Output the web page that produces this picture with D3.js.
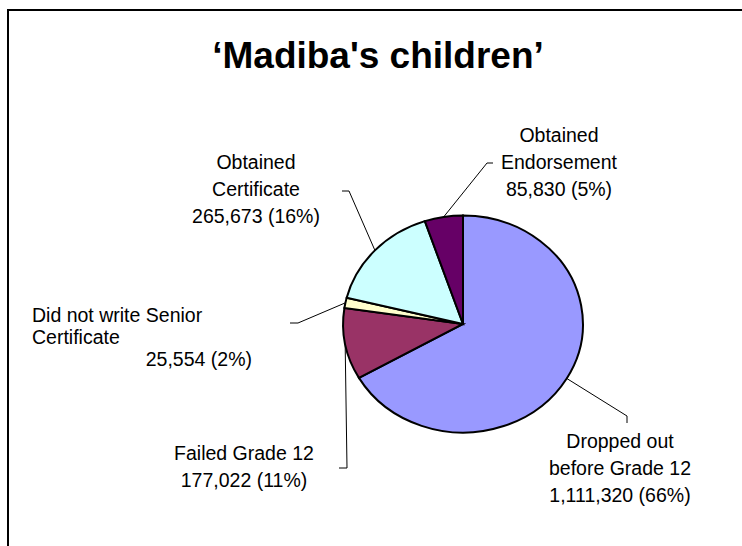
<!DOCTYPE html>
<html>
<head>
<meta charset="utf-8">
<script src="https://cdn.jsdelivr.net/npm/d3@7"></script>
<style>
  body { margin: 0; background: #fff; }
  text { font-family: "Liberation Sans", Arial, sans-serif; fill: #000; }
</style>
</head>
<body>
<div id="chart"></div>
<script>
// data
var categories = ["Dropped out before Grade 12", "Failed Grade 12", "Did not write Senior Certificate",
                  "Obtained Certificate", "Obtained Endorsement"];
var values = [1111320, 177022, 25554, 265673, 85830];
var percentLabels = ["66%", "11%", "2%", "16%", "5%"];
var colors = ["#9999FF", "#993366", "#FFFFCC", "#CCFFFF", "#660066"];

var width = 742, height = 546;
var cx = 463, cy = 324, r = 108.5, stretch = 1.105;

// label layout: text lines, anchor, positions and leader elbows
var labelLayout = [
    {lines: ["Dropped out", "before Grade 12"], x: 620, y: 448, dy: 27, anchor: "middle",
     leader: [[627, 416], [627, 423]]},
    {lines: ["Failed Grade 12"], x: 244, y: 460, dy: 27, anchor: "middle",
     leader: [[347, 468], [339, 468]]},
    {lines: ["Did not write Senior", "Certificate"], x: 32, y: 322, dy: 22, anchor: "start",
     valueX: 252, valueAnchor: "end",
     leader: [[298, 323], [290, 323]]},
    {lines: ["Obtained", "Certificate"], x: 256, y: 169, dy: 27, anchor: "middle",
     leader: [[349, 191], [342, 191]]},
    {lines: ["Obtained", "Endorsement"], x: 559, y: 142, dy: 27, anchor: "middle",
     leader: [[487, 163], [493, 163]]}
];

var svg = d3.select("#chart")
    .append("svg")
    .attr("width", width)
    .attr("height", height);

// chart frame
svg.append("rect")
    .attr("x", 8)
    .attr("y", 10)
    .attr("width", width + 20)
    .attr("height", height + 20)
    .style("fill", "#fff")
    .style("stroke", "#000")
    .style("stroke-width", 2);

// title
svg.append("text")
    .attr("x", 378)
    .attr("y", 68)
    .attr("text-anchor", "middle")
    .style("font-size", "37px")
    .style("font-weight", "bold")
    .text("\u2018Madiba's children\u2019");

var pie = d3.pie().sort(null).value(function(d) { return d; });
var arcs = pie(values);

var arc = d3.arc().innerRadius(0).outerRadius(r);

var pieG = svg.append("g")
    .attr("transform", "translate(" + cx + "," + cy + ") scale(" + stretch + ",1)");

pieG.selectAll("path")
    .data(arcs)
    .enter()
    .append("path")
    .attr("d", arc)
    .style("fill", function(d, i) { return colors[i]; })
    .style("stroke", "#000")
    .style("stroke-width", 2)
    .attr("vector-effect", "non-scaling-stroke");

// point on the (stretched) pie edge at the middle of a slice
function edgePoint(d) {
    var a = (d.startAngle + d.endAngle) / 2;
    return [cx + r * stretch * Math.sin(a), cy - r * Math.cos(a)];
}

var fmt = d3.format(",");

labelLayout.forEach(function(lab, i) {
    var pts = [edgePoint(arcs[i])].concat(lab.leader);
    svg.append("path")
        .attr("d", d3.line()(pts))
        .style("fill", "none")
        .style("stroke", "#000")
        .style("stroke-width", 1);

    var g = svg.append("g").attr("class", "label");
    lab.lines.forEach(function(line, j) {
        g.append("text")
            .attr("x", lab.x)
            .attr("y", lab.y + j * lab.dy)
            .attr("text-anchor", lab.anchor)
            .style("font-size", "19.5px")
            .text(line);
    });
    g.append("text")
        .attr("x", lab.valueX || lab.x)
        .attr("y", lab.y + lab.lines.length * lab.dy)
        .attr("text-anchor", lab.valueAnchor || lab.anchor)
        .style("font-size", "19.5px")
        .text(fmt(values[i]) + " (" + percentLabels[i] + ")");
});
</script>
</body>
</html>
